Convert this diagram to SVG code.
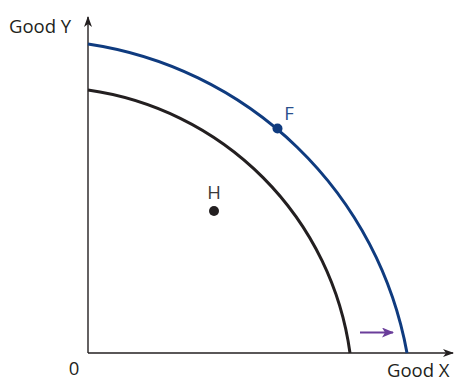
<svg xmlns="http://www.w3.org/2000/svg" width="455" height="379" viewBox="0 0 455 379">
<style>
.lbl{font-family:"Open Sans","Noto Sans",sans-serif;font-size:18.5px;fill:#231f20}
.axis{stroke:#231f20;stroke-width:1.4;fill:none}
.curve{fill:none;stroke-width:3}
</style>
<defs>
<marker id="ah" markerWidth="11" markerHeight="8" refX="10" refY="4" orient="auto" markerUnits="userSpaceOnUse">
<path d="M0,0 L11,4 L0,8 L3,4 Z" fill="#231f20"/>
</marker>
<marker id="ahp" markerWidth="12" markerHeight="10" refX="11" refY="5" orient="auto" markerUnits="userSpaceOnUse">
<path d="M0,0 L12,5 L0,10 L3,5 Z" fill="#6a3d9a"/>
</marker>
</defs>
<rect width="455" height="379" fill="#fff"/>
<g id="connectors">
<line class="axis" x1="88" y1="353" x2="88" y2="17" marker-end="url(#ah)"/>
<line class="axis" x1="88" y1="353" x2="453" y2="353" marker-end="url(#ah)"/>
<path id="ppf-old" class="curve" stroke="#231f20" d="M88,90 A308,308 0 0 1 350,353"/>
<path id="ppf-new" class="curve" stroke="#0f3b7f" d="M88,44 A381,381 0 0 1 407,353"/>
<line x1="360" y1="332.5" x2="393" y2="332.5" stroke="#6a3d9a" stroke-width="2" marker-end="url(#ahp)"/>
</g>
<g id="axis-y"><text class="lbl" x="9" y="33">Good Y</text></g>
<g id="axis-x"><text class="lbl" x="387" y="377">Good X</text></g>
<g id="origin"><text class="lbl" x="74" y="375" text-anchor="middle">0</text></g>
<g id="F">
<circle cx="277.5" cy="128.5" r="5" fill="#0f3b7f"/>
<text class="lbl" x="289" y="120" text-anchor="middle" style="fill:#2a4e8c">F</text>
</g>
<g id="H">
<circle cx="214" cy="211" r="5" fill="#231f20"/>
<text class="lbl" x="214" y="199" text-anchor="middle" style="fill:#3a3a3a">H</text>
</g>
</svg>
